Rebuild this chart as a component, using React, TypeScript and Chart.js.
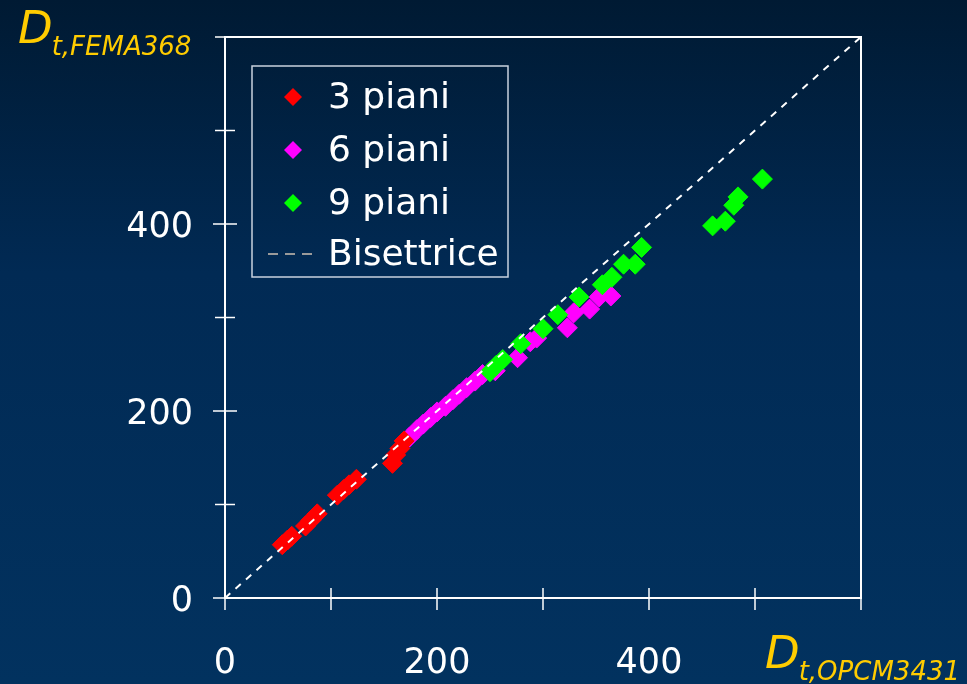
import React, { useEffect, useRef } from "react";
import { Chart, registerables } from "chart.js";

Chart.register(...registerables);

// ---- Data (x = D_t,OPCM3431, y = D_t,FEMA368) ----
const seriesLabels = ["3 piani", "6 piani", "9 piani"];
const bisectorLabel = "Bisettrice";

const piani3X = [54, 59, 63, 76, 81, 87, 106, 112, 117, 124, 158, 161, 165, 169];
const piani3Y = [57, 62, 66, 77, 83, 90, 110, 116, 121, 127, 144, 153, 160, 168];

const piani6X = [174, 181, 187, 194, 200, 208, 215, 221, 228, 236, 243, 255, 276, 288, 294, 323, 329, 344, 353, 364];
const piani6Y = [172, 180, 186, 193, 199, 205, 212, 218, 225, 232, 239, 243, 257, 274, 278, 289, 305, 309, 322, 323];

const piani9X = [250, 256, 262, 279, 300, 314, 334, 356, 365, 376, 387, 393, 460, 472, 480, 484, 507];
const piani9Y = [242, 249, 255, 272, 288, 303, 322, 335, 343, 357, 357, 375, 398, 403, 420, 429, 448];

const bisectorX = [0, 600];
const bisectorY = [0, 600];

const axisMin = 0;
const axisMax = 600;
const tickStep = 100;
const xTickLabels = [0, 200, 400];
const yTickLabels = [0, 200, 400];

const seriesColors = ["#ff0000", "#ff00ff", "#00ff00"];

const FONT = "'DejaVu Sans', Verdana, sans-serif";
const TITLE_COLOR = "#ffcc00";

const zip = (xs: number[], ys: number[]) => xs.map((x, i) => ({ x, y: ys[i] }));

const framePlugin = {
  id: "frameAndTicks",
  beforeDatasetsDraw(chart: any) {
    const { ctx, chartArea, scales } = chart;
    const xs = scales.x;
    const ys = scales.y;
    ctx.save();
    ctx.strokeStyle = "#ffffff";
    ctx.lineWidth = 2;
    ctx.strokeRect(chartArea.left, chartArea.top, chartArea.right - chartArea.left, chartArea.bottom - chartArea.top);
    ctx.lineWidth = 1.5;
    for (let v = axisMin; v <= axisMax; v += tickStep) {
      const py = ys.getPixelForValue(v);
      const len = yTickLabels.includes(v) ? 12 : 10;
      ctx.beginPath();
      ctx.moveTo(chartArea.left - len, py);
      ctx.lineTo(chartArea.left + (v === axisMax ? 0 : len), py);
      ctx.stroke();
      const px = xs.getPixelForValue(v);
      ctx.beginPath();
      ctx.moveTo(px, chartArea.bottom - (v === axisMax ? 0 : 10));
      ctx.lineTo(px, chartArea.bottom + 12);
      ctx.stroke();
    }
    ctx.restore();
  },
};

const legendPlugin = {
  id: "boxLegend",
  afterDraw(chart: any) {
    const { ctx } = chart;
    const ds = chart.data.datasets;
    ctx.save();
    ctx.strokeStyle = "#c9d2de";
    ctx.lineWidth = 1.5;
    ctx.strokeRect(252, 66, 256, 211);
    const rows = [97, 150, 203, 254];
    ctx.font = `36px ${FONT}`;
    ctx.textBaseline = "middle";
    ctx.textAlign = "left";
    seriesLabels.forEach((label, i) => {
      const y = rows[i];
      const x = 293;
      const r = 9;
      ctx.fillStyle = seriesColors[i];
      ctx.beginPath();
      ctx.moveTo(x, y - r);
      ctx.lineTo(x + r, y);
      ctx.lineTo(x, y + r);
      ctx.lineTo(x - r, y);
      ctx.closePath();
      ctx.fill();
      ctx.fillStyle = "#ffffff";
      ctx.fillText(label, 328, y + 2);
    });
    const by = rows[3];
    ctx.strokeStyle = "#9a9a9a";
    ctx.lineWidth = 2;
    ctx.setLineDash([10, 7]);
    ctx.beginPath();
    ctx.moveTo(268, by);
    ctx.lineTo(313, by);
    ctx.stroke();
    ctx.setLineDash([]);
    ctx.fillStyle = "#ffffff";
    ctx.fillText(ds[0].label, 328, by + 2);
    ctx.restore();
  },
};

const titlePlugin = {
  id: "axisTitles",
  afterDraw(chart: any) {
    const { ctx } = chart;
    ctx.save();
    ctx.fillStyle = TITLE_COLOR;
    ctx.textBaseline = "alphabetic";
    ctx.textAlign = "left";
    const drawTitle = (x: number, y: number, sub: string) => {
      ctx.font = `italic 45px ${FONT}`;
      ctx.fillText("D", x, y);
      const w = ctx.measureText("D").width;
      ctx.font = `italic 26px ${FONT}`;
      ctx.fillText(sub, x + w - 1, y + 12);
    };
    drawTitle(18, 43, "t,FEMA368");
    drawTitle(765, 668, "t,OPCM3431");
    ctx.restore();
  },
};

export default function App() {
  const ref = useRef<HTMLCanvasElement | null>(null);

  useEffect(() => {
    const canvas = ref.current;
    if (!canvas) return;
    const pointDs = (label: string, xs: number[], ys: number[], color: string, order: number) => ({
      type: "scatter" as const,
      label,
      data: zip(xs, ys),
      pointStyle: "rectRot",
      pointRadius: 10,
      pointHoverRadius: 10,
      backgroundColor: color,
      borderColor: color,
      borderWidth: 1,
      order,
    });
    const chart = new Chart(canvas, {
      type: "scatter",
      data: {
        datasets: [
          {
            type: "line" as const,
            label: bisectorLabel,
            data: zip(bisectorX, bisectorY),
            borderColor: "#ffffff",
            borderWidth: 2,
            borderDash: [7, 7],
            pointRadius: 0,
            showLine: true,
            fill: false,
            order: 0,
          } as any,
          pointDs(seriesLabels[0], piani3X, piani3Y, seriesColors[0], 2),
          pointDs(seriesLabels[1], piani6X, piani6Y, seriesColors[1], 3),
          pointDs(seriesLabels[2], piani9X, piani9Y, seriesColors[2], 1),
        ],
      },
      options: {
        responsive: false,
        animation: false,
        devicePixelRatio: 1,
        layout: { padding: { top: 37, right: 106, left: 0, bottom: 0 } },
        plugins: { legend: { display: false }, tooltip: { enabled: false } },
        scales: {
          x: {
            type: "linear",
            min: axisMin,
            max: axisMax,
            grid: { display: false, drawTicks: false },
            border: { display: false },
            ticks: {
              stepSize: tickStep,
              autoSkip: false,
              maxRotation: 0,
              padding: 45,
              color: "#ffffff",
              font: { family: FONT, size: 35 },
              callback: (v: any) => (xTickLabels.includes(Number(v)) ? String(v) : ""),
            },
            afterFit: (s: any) => {
              s.height = 86;
              s.paddingLeft = 0;
              s.paddingRight = 0;
            },
          },
          y: {
            type: "linear",
            min: axisMin,
            max: axisMax,
            grid: { display: false, drawTicks: false },
            border: { display: false },
            ticks: {
              stepSize: tickStep,
              autoSkip: false,
              padding: 32,
              labelOffset: 4,
              color: "#ffffff",
              font: { family: FONT, size: 35 },
              callback: (v: any) => (yTickLabels.includes(Number(v)) ? String(v) : ""),
            },
            afterFit: (s: any) => {
              s.width = 225;
              s.paddingTop = 0;
              s.paddingBottom = 0;
            },
          },
        },
      },
      plugins: [framePlugin, legendPlugin, titlePlugin],
    } as any);
    return () => chart.destroy();
  }, []);

  return (
    <div
      style={{
        position: "fixed",
        left: 0,
        top: 0,
        width: 967,
        height: 684,
        background: "linear-gradient(to bottom, #001a33 0%, #012a54 40%, #02325f 100%)",
      }}
    >
      <canvas ref={ref} width={967} height={684} style={{ display: "block" }} />
    </div>
  );
}
